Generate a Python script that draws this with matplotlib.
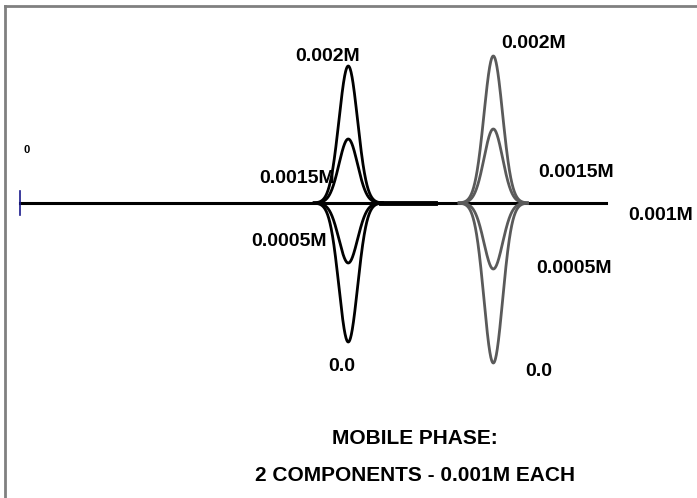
import matplotlib
matplotlib.use("Agg")
import matplotlib.pyplot as plt
import numpy as np

# ── Data ──────────────────────────────────────────────────────────────────────
# sample concentration in mobile phase (M) -> system peak response (a.u.)
concentrations = ["0.002M", "0.0015M", "0.001M", "0.0005M", "0.0"]
peak1_height = [137, 64, 0, -60, -139]   # component 1 (black)
peak2_height = [147, 74, 0, -66, -160]   # component 2 (gray)
peak1_time = 6.72
peak2_time = 9.69
peak_sigma = 0.19
run_end = 12.0

# ── Plot ──────────────────────────────────────────────────────────────────────
plt.rcParams["font.family"] = ["Liberation Sans", "DejaVu Sans"]

fig = plt.figure(figsize=(6.97, 4.98), dpi=100)
ax = fig.add_axes([0, 0, 1, 1])
ax.set_xlim(-0.41, 13.86)
ax.set_ylim(-295, 203)
ax.axis("off")

t = np.linspace(0, run_end, 3000)

# baseline
ax.plot([0, run_end], [0, 0], color="black", lw=2.2, zorder=3)
ax.plot([0, 0], [-12, 12], color="#1a1a8c", lw=1.2, zorder=4)
ax.plot([7.4, 8.5], [0, 0], color="black", lw=3.5, zorder=3)

for h1, h2 in zip(peak1_height, peak2_height):
    if h1 == 0:
        continue
    y1 = h1 * np.exp(-0.5 * ((t - peak1_time) / peak_sigma) ** 2)
    y2 = h2 * np.exp(-0.5 * ((t - peak2_time) / peak_sigma) ** 2)
    m1 = np.abs(t - peak1_time) < 0.7
    m2 = np.abs(t - peak2_time) < 0.7
    ax.plot(t[m1], y1[m1], color="black", lw=2.0, zorder=5)
    ax.plot(t[m2], y2[m2], color="#5a5a5a", lw=2.0, zorder=5)

fs = 14
lab = dict(fontsize=fs, fontweight="bold", ha="center", va="center")
# component 1 labels
ax.text(6.30, 147, concentrations[0], **lab)
ax.text(5.67, 25, concentrations[1], **lab)
ax.text(5.51, -38, concentrations[3], **lab)
ax.text(6.59, -163, concentrations[4], **lab)
# component 2 labels
ax.text(10.51, 160, concentrations[0], **lab)
ax.text(11.39, 31, concentrations[1], **lab)
ax.text(13.11, -12, concentrations[2], **lab)
ax.text(11.35, -65, concentrations[3], **lab)
ax.text(10.61, -168, concentrations[4], **lab)

ax.text(0.145, 53, "0", fontsize=8, fontweight="bold", ha="center", va="center")

ax.text(8.09, -235, "MOBILE PHASE:", fontsize=15, fontweight="bold",
        ha="center", va="center")
ax.text(8.09, -272, "2 COMPONENTS - 0.001M EACH", fontsize=15,
        fontweight="bold", ha="center", va="center")

# frame (left and top edges)
fig.add_artist(plt.Line2D([0.0075, 0.0075], [0, 0.988], color="#808080",
                          lw=2, transform=fig.transFigure))
fig.add_artist(plt.Line2D([0.0075, 1], [0.988, 0.988], color="#808080",
                          lw=2, transform=fig.transFigure))

fig.savefig("out.png", dpi=100)
